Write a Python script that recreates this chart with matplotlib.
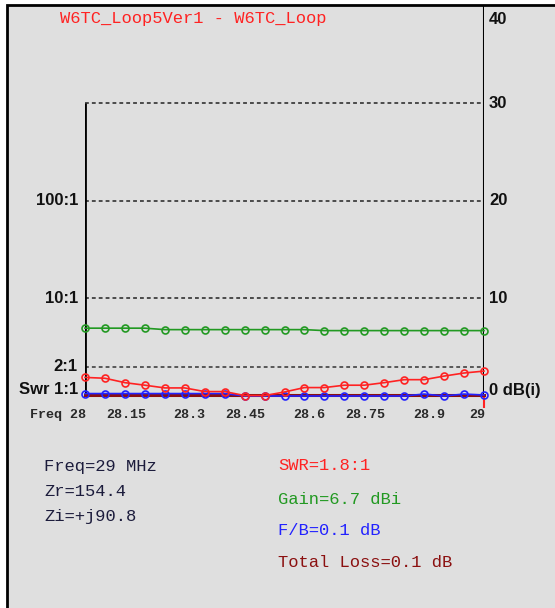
import numpy as np
import matplotlib
matplotlib.use("Agg")
import matplotlib.pyplot as plt
from matplotlib.patches import Rectangle

# sweep results, 28-29 MHz
freqs = [28.00, 28.05, 28.10, 28.15, 28.20, 28.25, 28.30, 28.35, 28.40, 28.45, 28.50,
         28.55, 28.60, 28.65, 28.70, 28.75, 28.80, 28.85, 28.90, 28.95, 29.00]
swr = [1.55, 1.52, 1.37, 1.29, 1.21, 1.21, 1.11, 1.11, 1.01, 1.01, 1.10,
       1.22, 1.22, 1.29, 1.29, 1.37, 1.47, 1.47, 1.60, 1.72, 1.80]
gain = [6.95, 6.95, 6.95, 6.95, 6.8, 6.8, 6.8, 6.8, 6.8, 6.8, 6.8,
        6.8, 6.7, 6.7, 6.7, 6.7, 6.7, 6.7, 6.7, 6.7, 6.7]
fb = [0.25, 0.25, 0.25, 0.25, 0.25, 0.25, 0.25, 0.25, 0.0, 0.0, 0.0,
      0.0, 0.0, 0.0, 0.0, 0.0, 0.0, 0.2, 0.0, 0.2, 0.1]
loss = [0.1, 0.1, 0.1, 0.1, 0.1, 0.1, 0.1, 0.1, 0.1, 0.1, 0.1,
        0.1, 0.1, 0.1, 0.1, 0.1, 0.1, 0.1, 0.1, 0.1, 0.1]

xticks = [28.0, 28.15, 28.3, 28.45, 28.6, 28.75, 28.9, 29.0]
xlabels = ["Freq 28", "28.15", "28.3", "28.45", "28.6", "28.75", "28.9", "29"]
db_ticks = [10, 20, 30]
swr_ticks = [1, 2, 10, 100]
swr_labels = ["Swr 1:1", "2:1", "10:1", "100:1"]

RED = "#ff2222"
GREEN = "#229922"
BLUE = "#2222ff"
MAROON = "#8b1010"
BG = "#dfdfdf"

W, H = 555, 608
fig = plt.figure(figsize=(W / 100, H / 100), dpi=100)
fig.patch.set_facecolor("white")
fig.patches.append(Rectangle((7 / W, -0.02), 1.1, (H - 5) / H + 0.02,
                             transform=fig.transFigure, facecolor=BG,
                             edgecolor="black", linewidth=2, zorder=-10))

ax = fig.add_axes([85 / W, (H - 396) / H, 399 / W, 390.4 / H])
ax.set_facecolor("none")
ax.set_xlim(28, 29)
ax.set_ylim(0, 40)
ax.axis("off")

# grid and frame lines
for v in db_ticks:
    ax.hlines(v, 28, 29, colors="#222222", linestyles=(0, (2.5, 2)), linewidth=1.1)
ax.hlines(10 * np.log10(2), 28, 29, colors="#333333", linestyles=(0, (2.5, 2)), linewidth=1.1)
ax.vlines(28, 0, 30, colors="black", linewidth=2)
ax.vlines(29, 0, 40, colors="black", linewidth=1.5)
ax.hlines(0, 28, 29, colors="black", linewidth=2.5, zorder=3)
ax.vlines(29, -1.2, 0, colors=RED, linewidth=1.5, clip_on=False)

mk = dict(marker="o", markersize=5, markerfacecolor="none", markeredgewidth=1.2,
          linewidth=1.2, clip_on=False)
ax.plot(freqs, loss, color=MAROON, linewidth=2.2, clip_on=False, zorder=4)
ax.plot(freqs, fb, color=BLUE, zorder=5, **mk)
ax.plot(freqs, 10 * np.log10(swr), color=RED, zorder=6, **mk)
ax.plot(freqs, gain, color=GREEN, zorder=5, **mk)

lab = dict(fontfamily="Liberation Sans", fontweight="bold", fontsize=12, color="#111111")
# right dB scale
for v in db_ticks:
    ax.annotate(str(v), (29, v), xytext=(5, 0), textcoords="offset pixels",
                ha="left", va="center", annotation_clip=False, **lab)
ax.annotate("40", (29, 40), xytext=(5, -6), textcoords="offset pixels",
            ha="left", va="top", annotation_clip=False, **lab)
ax.annotate("0 dB(i)", (29, 0), xytext=(5, 6), textcoords="offset pixels",
            ha="left", va="center", annotation_clip=False, **lab)
# left SWR scale
for s, t in zip(swr_ticks, swr_labels):
    dy = 6 if s == 1 else 0
    ax.annotate(t, (28, 10 * np.log10(s)), xytext=(-7, dy), textcoords="offset pixels",
                ha="right", va="center", annotation_clip=False, **lab)

# frequency labels
for f, t in zip(xticks, xlabels):
    ax.annotate(t, (f, 0), xytext=(1, -19), textcoords="offset pixels",
                ha="right", va="center", annotation_clip=False,
                fontfamily="Liberation Mono", fontweight="bold", fontsize=9.6, color="#2a2a2a")

mono = dict(fontfamily="Liberation Mono", fontsize=12.3, va="center", ha="left")
fig.text(60 / W, 1 - 18 / H, "W6TC_Loop5Ver1 - W6TC_Loop", color=RED, **mono)

fig.text(44 / W, 1 - 466 / H, "Freq=29 MHz", color="#1c1c3c", **mono)
fig.text(44 / W, 1 - 491.5 / H, "Zr=154.4", color="#1c1c3c", **mono)
fig.text(44 / W, 1 - 516.5 / H, "Zi=+j90.8", color="#1c1c3c", **mono)

fig.text(278 / W, 1 - 466 / H, "SWR=1.8:1", color=RED, **mono)
fig.text(278 / W, 1 - 499 / H, "Gain=6.7 dBi", color=GREEN, **mono)
fig.text(278 / W, 1 - 530.5 / H, "F/B=0.1 dB", color=BLUE, **mono)
fig.text(278 / W, 1 - 562.5 / H, "Total Loss=0.1 dB", color=MAROON, **mono)

fig.savefig("out.png", dpi=100)
